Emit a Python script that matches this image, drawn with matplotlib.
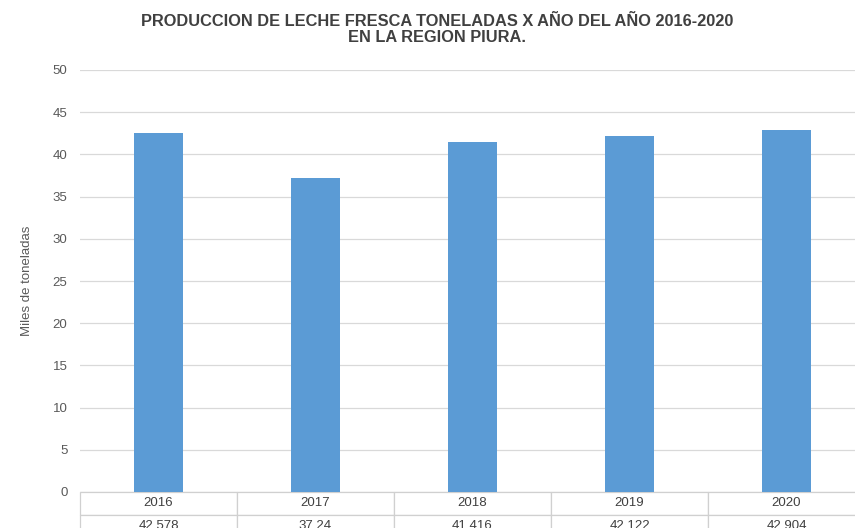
import matplotlib.pyplot as plt
from matplotlib import font_manager

# datos
anios = ["2016", "2017", "2018", "2019", "2020"]
produccion = [42.578, 37.24, 41.416, 42.122, 42.904]
etiquetas = ["42.578", "37.24", "41.416", "42.122", "42.904"]
yticks = [0, 5, 10, 15, 20, 25, 30, 35, 40, 45, 50]
titulo = ["PRODUCCION DE LECHE FRESCA TONELADAS X AÑO DEL AÑO 2016-2020",
          "EN LA REGION PIURA."]

plt.rcParams['font.family'] = ['Liberation Sans', 'DejaVu Sans']

# fuente estrecha para el titulo si existe
try:
    font_manager.findfont('Liberation Sans Narrow', fallback_to_default=False)
    fam_titulo, tam_titulo = ['Liberation Sans Narrow', 'Liberation Sans'], 12.5
except Exception:
    fam_titulo, tam_titulo = ['Liberation Sans', 'DejaVu Sans'], 11.8

fig = plt.figure(figsize=(8.55, 5.28), dpi=100)
ax = fig.add_axes([80 / 855, 1 - 492 / 528, 785 / 855, 422 / 528])

x = range(len(anios))
ax.bar(x, produccion, width=0.31, color='#5B9BD5', zorder=3)

ax.set_xlim(-0.5, len(anios) - 0.5)
ax.set_ylim(0, 50)
ax.set_yticks(yticks)
ax.set_xticks([])
ax.tick_params(axis='y', length=0, colors='#595959', labelsize=9.5, pad=9)
ax.grid(axis='y', color='#d9d9d9', linewidth=0.9, zorder=0)
for s in ax.spines.values():
    s.set_visible(False)

ax.set_ylabel("Miles de toneladas", color='#595959', fontsize=9.5, labelpad=14)

# tabla de datos debajo del eje
tabla = ax.table(cellText=[anios, etiquetas], cellLoc='center',
                 bbox=[0, -0.109, 1, 0.109])
tabla.auto_set_font_size(False)
for (r, c), cell in tabla.get_celld().items():
    cell.set_edgecolor('#d0d0d0')
    cell.set_linewidth(0.9)
    cell.get_text().set_color('#404040')
    cell.get_text().set_fontsize(9.5)

# titulo en dos lineas
for i, linea in enumerate(titulo):
    fig.text(0.511, 1 - (21 + 17 * i) / 528, linea,
             ha='center', va='center', fontsize=tam_titulo, fontweight='bold',
             color='#404040', family=fam_titulo)

fig.savefig("out.png", dpi=100)
